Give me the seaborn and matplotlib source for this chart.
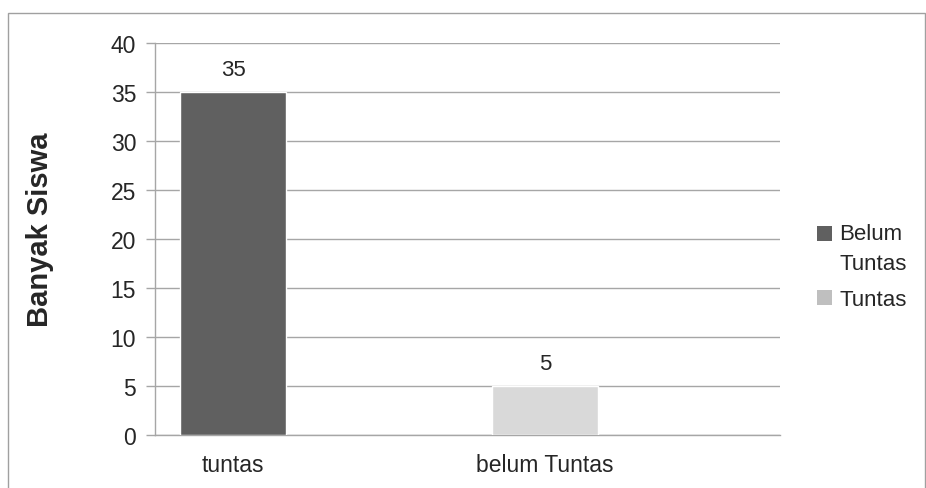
import matplotlib
matplotlib.use("Agg")
import pandas as pd
import seaborn as sns
import matplotlib.pyplot as plt
from matplotlib.patches import Patch, Rectangle
from matplotlib.legend_handler import HandlerPatch

categories = ["tuntas", "belum Tuntas"]
values = [35, 5]
bar_colors = ["#606060", "#d9d9d9"]
legend_labels = ["Belum\nTuntas", "Tuntas"]
legend_colors = ["#606060", "#bfbfbf"]
yticks = [0, 5, 10, 15, 20, 25, 30, 35, 40]

sns.set_style("white")
plt.rcParams["font.family"] = ["Liberation Sans", "DejaVu Sans"]

df = pd.DataFrame({"kategori": categories, "jumlah": values})

fig = plt.figure(figsize=(9.26, 4.89), dpi=100)
ax = fig.add_axes([155/926, 1-436/489, 625/926, 392/489])

sns.barplot(data=df, x="kategori", y="jumlah", hue="kategori",
            palette=bar_colors, width=0.34, legend=False, ax=ax, zorder=3)

for c in ax.containers:
    ax.bar_label(c, fontsize=16, padding=9)

ax.set_xlim(-0.25, 1.753)
ax.set_ylim(0, 40)
ax.set_yticks(yticks)
ax.yaxis.grid(True, color="#a6a6a6", linewidth=1, zorder=0)
ax.set_axisbelow(True)
ax.set_xlabel("")
ax.set_ylabel("")

for s in ["top", "right"]:
    ax.spines[s].set_visible(False)
for s in ["left", "bottom"]:
    ax.spines[s].set_color("#a6a6a6")
    ax.spines[s].set_linewidth(1)

ax.tick_params(axis="y", direction="out", length=6.5, width=1, color="#a6a6a6",
               labelsize=16.5, pad=7, left=True)
ax.tick_params(axis="x", length=0, labelsize=16.5, pad=13)

fig.text(40/926, 1-230/489, "Banyak Siswa", rotation=90, fontsize=21,
         fontweight="bold", ha="center", va="center")


# square of the two-line entry sits beside the first line, like Excel
def top_square(legend, orig_handle, xdescent, ydescent, width, height, fontsize):
    return Rectangle((-xdescent, -ydescent + 11), width, height)


handles = [Patch(facecolor=c, edgecolor="none") for c in legend_colors]
leg = fig.legend(handles, legend_labels, loc="upper left",
                 bbox_to_anchor=(806/926, 1-213/489), frameon=False, fontsize=16,
                 handlelength=0.65, handleheight=0.65, handletextpad=0.35,
                 labelspacing=0.7, borderpad=0,
                 handler_map={handles[0]: HandlerPatch(patch_func=top_square)})
for t in leg.get_texts():
    t.set_linespacing(1.55)

fig.patches.append(Rectangle((8/926, -0.02), 917/926, 1-14/489+0.02,
                             transform=fig.transFigure, fill=False,
                             edgecolor="#a0a0a0", linewidth=1))

fig.savefig("out.png", dpi=100)
